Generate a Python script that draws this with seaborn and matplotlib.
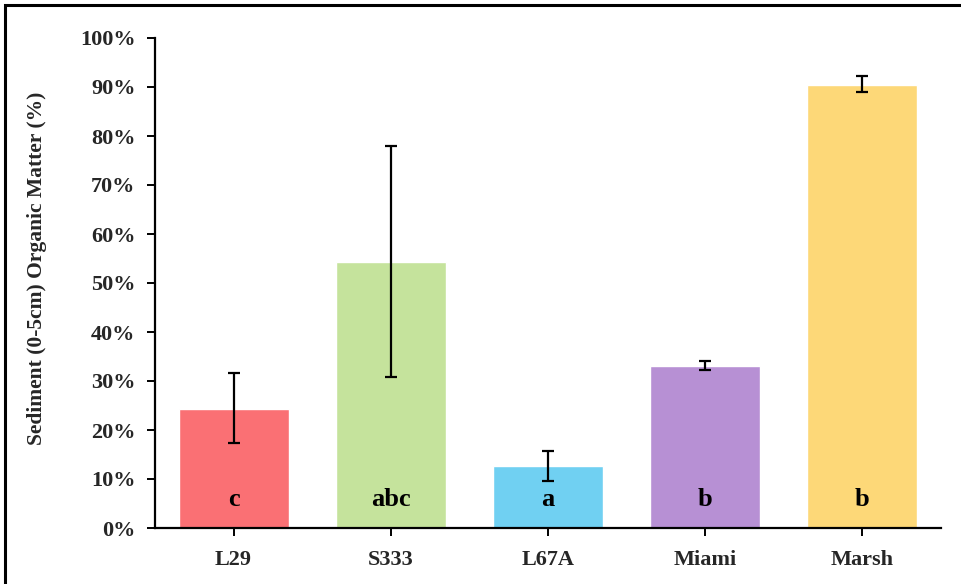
import matplotlib
matplotlib.use("Agg")
import matplotlib.pyplot as plt
import matplotlib.patches as mpatches
import seaborn as sns
import pandas as pd
import numpy as np

sites = ["L29", "S333", "L67A", "Miami", "Marsh"]
organic_matter = [24.3, 54.3, 12.7, 33.1, 90.5]
err_low = [17.3, 30.8, 9.6, 32.3, 88.9]
err_high = [31.6, 78.0, 15.8, 34.0, 92.2]
letters = ["c", "abc", "a", "b", "b"]
colors = ["#FA7074", "#C5E39C", "#70D0F2", "#B790D4", "#FDD878"]

df = pd.DataFrame({"site": sites, "om": organic_matter})

sns.set_theme(style="white")
plt.rcParams["font.family"] = ["Liberation Serif", "DejaVu Serif"]
plt.rcParams["font.weight"] = "bold"

fig = plt.figure(figsize=(9.61, 5.84), dpi=100)
ax = fig.add_axes([155 / 961, 1 - 528 / 584, (941 - 155) / 961, (528 - 38) / 584])

sns.barplot(data=df, x="site", y="om", hue="site", palette=colors,
            legend=False, width=0.70, saturation=1, ax=ax)

centers = np.arange(len(sites))
lo = np.array(organic_matter) - np.array(err_low)
hi = np.array(err_high) - np.array(organic_matter)
ax.errorbar(centers, organic_matter, yerr=[lo, hi], fmt="none",
            ecolor="black", elinewidth=1.6, capsize=4, capthick=1.6, zorder=5)

for x, t in zip(centers, letters):
    ax.text(x, 5.8, t, ha="center", va="center", fontsize=19,
            fontweight="bold", color="black")

ax.set_xlim(-0.5, 4.5)
ax.set_ylim(0, 100)
ax.set_yticks(np.arange(0, 101, 10))
ax.set_yticklabels([f"{v}%" for v in range(0, 101, 10)])
ax.set_xlabel("")
ax.set_ylabel("Sediment (0-5cm) Organic Matter (%)", fontsize=15.5,
              fontweight="bold")
ax.yaxis.set_label_coords(-0.138, 0.53)

for s in ["top", "right"]:
    ax.spines[s].set_visible(False)
for s in ["left", "bottom"]:
    ax.spines[s].set_color("black")
    ax.spines[s].set_linewidth(1.6)

ax.tick_params(axis="both", which="major", direction="out", length=6,
               width=1.4, color="black", labelsize=16, left=True,
               bottom=True)
ax.tick_params(axis="x", pad=10)
ax.tick_params(axis="y", pad=8)
for lab in ax.get_xticklabels() + ax.get_yticklabels():
    lab.set_fontweight("bold")

# frame around the figure
fig.patches.append(mpatches.Rectangle((5 / 961, -0.1), 1.1, 1 - 5 / 584 + 0.1,
                                      transform=fig.transFigure, fill=False,
                                      edgecolor="black", linewidth=2.2))

fig.savefig("out.png", dpi=100)
